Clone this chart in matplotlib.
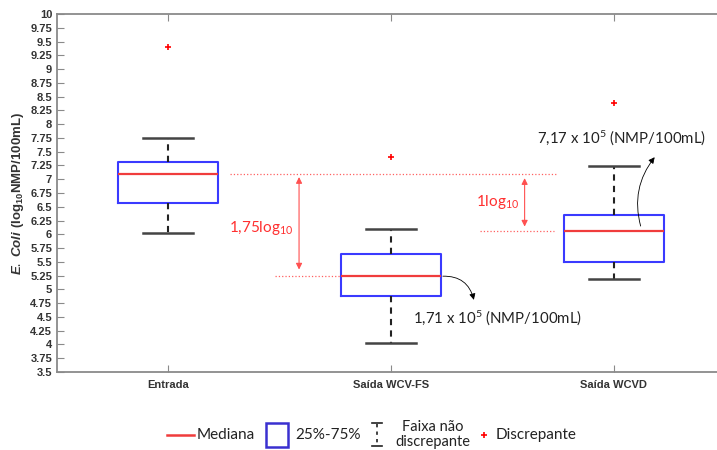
import numpy as np
import matplotlib.pyplot as plt

plt.rcParams['mathtext.fontset'] = 'custom'
plt.rcParams['mathtext.rm'] = 'Lato'
plt.rcParams['mathtext.bf'] = 'Liberation Sans:bold'
plt.rcParams['mathtext.it'] = 'Liberation Sans:italic:bold'

# boxplot statistics (log10 NMP/100mL)
groups = ['Entrada', 'Saída WCV-FS', 'Saída WCVD']
q1 = [6.57, 4.88, 5.50]
med = [7.10, 5.24, 6.06]
q3 = [7.31, 5.65, 6.35]
whislo = [6.02, 4.03, 5.19]
whishi = [7.75, 6.10, 7.24]
fliers = [[9.40], [7.40], [8.38]]

ytick_vals = np.arange(3.5, 10.01, 0.25)

fig = plt.figure(figsize=(7.17, 4.5), dpi=100)
ax = fig.add_axes([0.0795, 0.1733, 0.9317, 0.7956])

stats = [dict(label=g, q1=a, med=m, q3=b, whislo=lo, whishi=hi, fliers=f)
         for g, a, m, b, lo, hi, f in zip(groups, q1, med, q3, whislo, whishi, fliers)]
ax.bxp(stats, positions=[1, 2, 3], widths=0.45, capwidths=0.225,
       boxprops=dict(color='#3a3aff', lw=1.5),
       medianprops=dict(color='#f03c3c', lw=1.6),
       whiskerprops=dict(color='#222222', ls=(0, (3, 2.5)), lw=1.5),
       capprops=dict(color='#444444', lw=1.8),
       flierprops=dict(marker='+', markeredgecolor='red', markersize=4.5, markeredgewidth=1.2))

ax.set_xlim(0.5, 3.5)
ax.set_ylim(3.5, 10)
ax.set_yticks(ytick_vals)
ax.set_yticklabels(['%g' % v for v in ytick_vals])
for s in ax.spines.values():
    s.set_color('#8a8a8a')
    s.set_linewidth(1.3)
ax.tick_params(direction='in', length=5, color='#8a8a8a', top=True, right=True,
               labelsize=8, labelcolor='#333333')
for lab in ax.get_xticklabels() + ax.get_yticklabels():
    lab.set_fontweight('bold')
    lab.set_family('Liberation Sans')
ax.tick_params(axis='x', pad=6)

ax.set_ylabel(r'$\it{E.\ Coli}\ \mathbf{(log_{10}NMP/100mL)}$', fontsize=9.5,
              color='#333333', labelpad=3)

# reference lines and differences
red = '#ff3030'
ax.plot([1.278, 2.744], [med[0], med[0]], ls=':', color='#ff6060', lw=0.9)
ax.plot([1.48, 1.776], [med[1], med[1]], ls=':', color='#ff6060', lw=0.9)
ax.plot([2.40, 2.73], [med[2], med[2]], ls=':', color='#ff6060', lw=0.9)

ax.annotate('', xy=(1.587, med[1] + 0.12), xytext=(1.587, med[0] - 0.06),
            arrowprops=dict(arrowstyle='<|-|>', color='#ff5050', lw=0.8,
                            mutation_scale=9, shrinkA=0, shrinkB=0))
ax.annotate('', xy=(2.60, med[2] + 0.08), xytext=(2.60, med[0] - 0.08),
            arrowprops=dict(arrowstyle='<|-|>', color='#ff5050', lw=0.8,
                            mutation_scale=9, shrinkA=0, shrinkB=0))
ax.text(1.56, 6.11, r'1,75log$_\mathrm{10}$', color=red, fontsize=11, family='Lato',
        ha='right', va='center')
ax.text(2.574, 6.59, r'1log$_\mathrm{10}$', color=red, fontsize=11, family='Lato',
        ha='right', va='center')

# concentration callouts
ax.annotate('', xy=(2.372, 4.81), xytext=(2.233, med[1]),
            arrowprops=dict(arrowstyle='-|>', color='black', lw=0.6, mutation_scale=9,
                            shrinkA=0, shrinkB=0, connectionstyle='arc3,rad=-0.4'))
ax.text(2.099, 4.48, r'1,71 x 10$^\mathrm{5}$ (NMP/100mL)', fontsize=10.8, family='Lato',
        ha='left', va='center', color='#222222')
ax.annotate('', xy=(3.184, 7.40), xytext=(3.121, 6.15),
            arrowprops=dict(arrowstyle='-|>', color='black', lw=0.6, mutation_scale=9,
                            shrinkA=0, shrinkB=0, connectionstyle='arc3,rad=-0.25'))
ax.text(2.655, 7.75, r'7,17 x 10$^\mathrm{5}$ (NMP/100mL)', fontsize=10.8, family='Lato',
        ha='left', va='center', color='#222222')

# legend drawn in pixel units below the plot
lg = fig.add_axes([0, 0, 1, 35 / 450])
lg.set_xlim(0, 717)
lg.set_ylim(450, 415)
lg.axis('off')
lg.plot([167, 194], [435, 435], color='#f03c3c', lw=1.8)
lg.text(197, 435, 'Mediana', fontsize=11, family='Lato', va='center', color='#222222')
lg.add_patch(plt.Rectangle((266, 423), 22, 24, fill=False, edgecolor='#3a30d0', lw=1.8))
lg.text(295, 435, '25%-75%', fontsize=11, family='Lato', va='center', color='#222222')
lg.plot([377, 377], [424, 446], color='#222222', ls=(0, (2, 2.5)), lw=1.2)
lg.plot([372, 382], [423, 423], color='#222222', lw=1.2)
lg.plot([372, 382], [446, 446], color='#222222', lw=1.2)
lg.text(433, 427, 'Faixa não', fontsize=10.5, family='Lato', va='center', ha='center', color='#222222')
lg.text(433, 441.5, 'discrepante', fontsize=10.5, family='Lato', va='center', ha='center', color='#222222')
lg.plot([484], [435], marker='+', color='red', markersize=4.5, markeredgewidth=1.2)
lg.text(496, 435, 'Discrepante', fontsize=11, family='Lato', va='center', color='#222222')

fig.savefig('out.png', dpi=100)
